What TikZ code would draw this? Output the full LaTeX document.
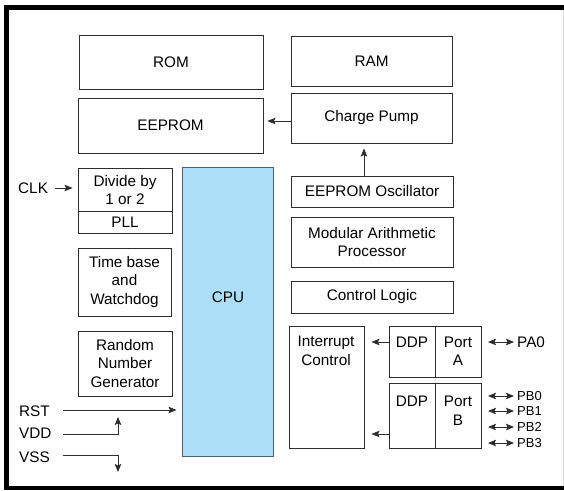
\documentclass[tikz,border=0pt]{standalone}
\usepackage{fontspec}
\setmainfont{Liberation Sans}
\usetikzlibrary{arrows.meta,calc}
\definecolor{cpublue}{RGB}{172,222,248}
\definecolor{cpuedge}{RGB}{70,100,120}
\definecolor{edge}{RGB}{45,45,45}
\begin{document}
\begin{tikzpicture}[x=1pt,y=-1pt,
  box/.style={draw=edge,line width=0.9pt,inner sep=0pt,align=center,
    font=\fontsize{15.3}{18.5}\selectfont},
  txt/.style={inner sep=0pt,align=center,font=\fontsize{15.3}{18.5}\selectfont},
  pin/.style={inner sep=0pt,anchor=west,font=\fontsize{15.3}{18.5}\selectfont},
  smallpin/.style={pin,font=\fontsize{13}{15}\selectfont},
  tip/.tip={Stealth[length=8pt,width=6.5pt,inset=1.5pt]},
  arr/.style={draw=edge,line width=0.9pt,-tip},
  darr/.style={draw=edge,line width=0.9pt,tip-tip},
]
\useasboundingbox (0,0) rectangle (564,490);
\fill[white] (0,0) rectangle (564,490);
% outer frame
\fill[black] (4,5) rectangle (564,10);
\fill[black] (4,5) rectangle (9,490);
\fill[black] (4,486) rectangle (564,490);
\draw[black!15,line width=1pt] (563,10) -- (563,486);

% memories
\node[box,minimum width=184pt,minimum height=54pt] (rom) at (171,62) {ROM};
\node[box,minimum width=161pt,minimum height=50pt] (ram) at (371.5,61) {RAM};
\node[box,minimum width=185pt,minimum height=55pt] (eeprom) at (170.5,125.5) {EEPROM};
\node[box,minimum width=161pt,minimum height=50pt] (pump) at (371.5,118) {Charge Pump};

% right column
\node[box,minimum width=162pt,minimum height=31pt] (osc) at (372,191.5) {EEPROM Oscillator};
\node[box,minimum width=162pt,minimum height=50pt] (map) at (372,242) {Modular Arithmetic\\Processor};
\node[box,minimum width=162pt,minimum height=32pt] (ctrl) at (372,297) {Control Logic};

% CPU
\node[draw=cpuedge,fill=cpublue,line width=0.9pt,minimum width=91pt,minimum height=289pt,inner sep=0pt] (cpu) at (227.5,311.5) {};
\node[txt] (cpulabel) at (228,297) {CPU};

% left column
\node[box,minimum width=94pt,minimum height=65pt] (div) at (125,200.5) {};
\coordinate (ydiv) at (0,211);
\draw[draw=edge,line width=0.9pt] (div.west |- ydiv) -- (div.east |- ydiv);
\node[txt] (divtxt) at (125,190) {Divide by\\1 or 2};
\node[txt] (pll) at (125,222) {PLL};
\node[box,minimum width=93pt,minimum height=68pt] (tb) at (124.5,282) {Time base\\and\\Watchdog};
\node[box,minimum width=94pt,minimum height=65pt] (rng) at (125,363.5) {Random\\Number\\Generator};

% interrupt and ports
\node[box,minimum width=75pt,minimum height=122pt] (intr) at (326.5,387) {};
\node[txt] (intrtxt) at (326,351) {Interrupt\\Control};
\node[box,minimum width=92pt,minimum height=51pt] (porta) at (435,351.5) {};
\node[box,minimum width=92pt,minimum height=65pt] (portb) at (435,415.5) {};
\draw[draw=edge,line width=0.9pt] (porta.north) -- (porta.south);
\draw[draw=edge,line width=0.9pt] (portb.north) -- (portb.south);
\node[txt] (ddpa) at (412,342) {DDP};
\node[txt] (pta) at (458,351) {Port\\A};
\node[txt] (ddpb) at (412,401) {DDP};
\node[txt] (ptb) at (458,410.5) {Port\\B};

% internal connections
\coordinate (ypump) at (0,121);
\draw[arr,shorten >=4pt] (pump.west |- ypump) -- (eeprom.east |- ypump);
\coordinate (xosc) at (364,0);
\draw[arr,shorten >=5pt] (osc.north -| xosc) -- (pump.south -| xosc);
\coordinate (ya) at (0,342);
\coordinate (yb) at (0,434);
\draw[arr,shorten >=7pt] (porta.west |- ya) -- (intr.east |- ya);
\draw[arr,shorten >=7pt] (portb.west |- yb) -- (intr.east |- yb);

% external pins, left
\node[pin] (clk) at (18,188) {CLK};
\coordinate (clks) at (55,188);
\draw[arr,shorten >=5pt] (clks) -- (div.west |- clks);
\node[pin] (rst) at (19,411) {RST};
\node[pin] (vdd) at (19,433) {VDD};
\node[pin] (vss) at (19,457) {VSS};
\coordinate (rsts) at (63,410);
\draw[arr,shorten >=5pt] (rsts) -- (cpu.west |- rsts);
\coordinate (vdds) at (63,434);
\coordinate (vddt) at (118,417);
\draw[arr] (vdds) -| (vddt);
\coordinate (vsss) at (63,455);
\coordinate (vsst) at (118,472);
\draw[arr] (vsss) -| (vsst);

% external pins, right
\node[pin] (pa0) at (517,342) {PA0};
\coordinate (pa0s) at (488,342);
\draw[darr,shorten >=3pt] (pa0s) -- (pa0.west);
\node[smallpin] (pb0) at (517,396) {PB0};
\node[smallpin] (pb1) at (517,411) {PB1};
\node[smallpin] (pb2) at (517,427) {PB2};
\node[smallpin] (pb3) at (517,443) {PB3};
\coordinate (pb0s) at (488,396);
\coordinate (pb1s) at (488,411);
\coordinate (pb2s) at (488,427);
\coordinate (pb3s) at (488,443);
\draw[darr,shorten >=3pt] (pb0s) -- (pb0.west);
\draw[darr,shorten >=3pt] (pb1s) -- (pb1.west);
\draw[darr,shorten >=3pt] (pb2s) -- (pb2.west);
\draw[darr,shorten >=3pt] (pb3s) -- (pb3.west);
\end{tikzpicture}
\end{document}
